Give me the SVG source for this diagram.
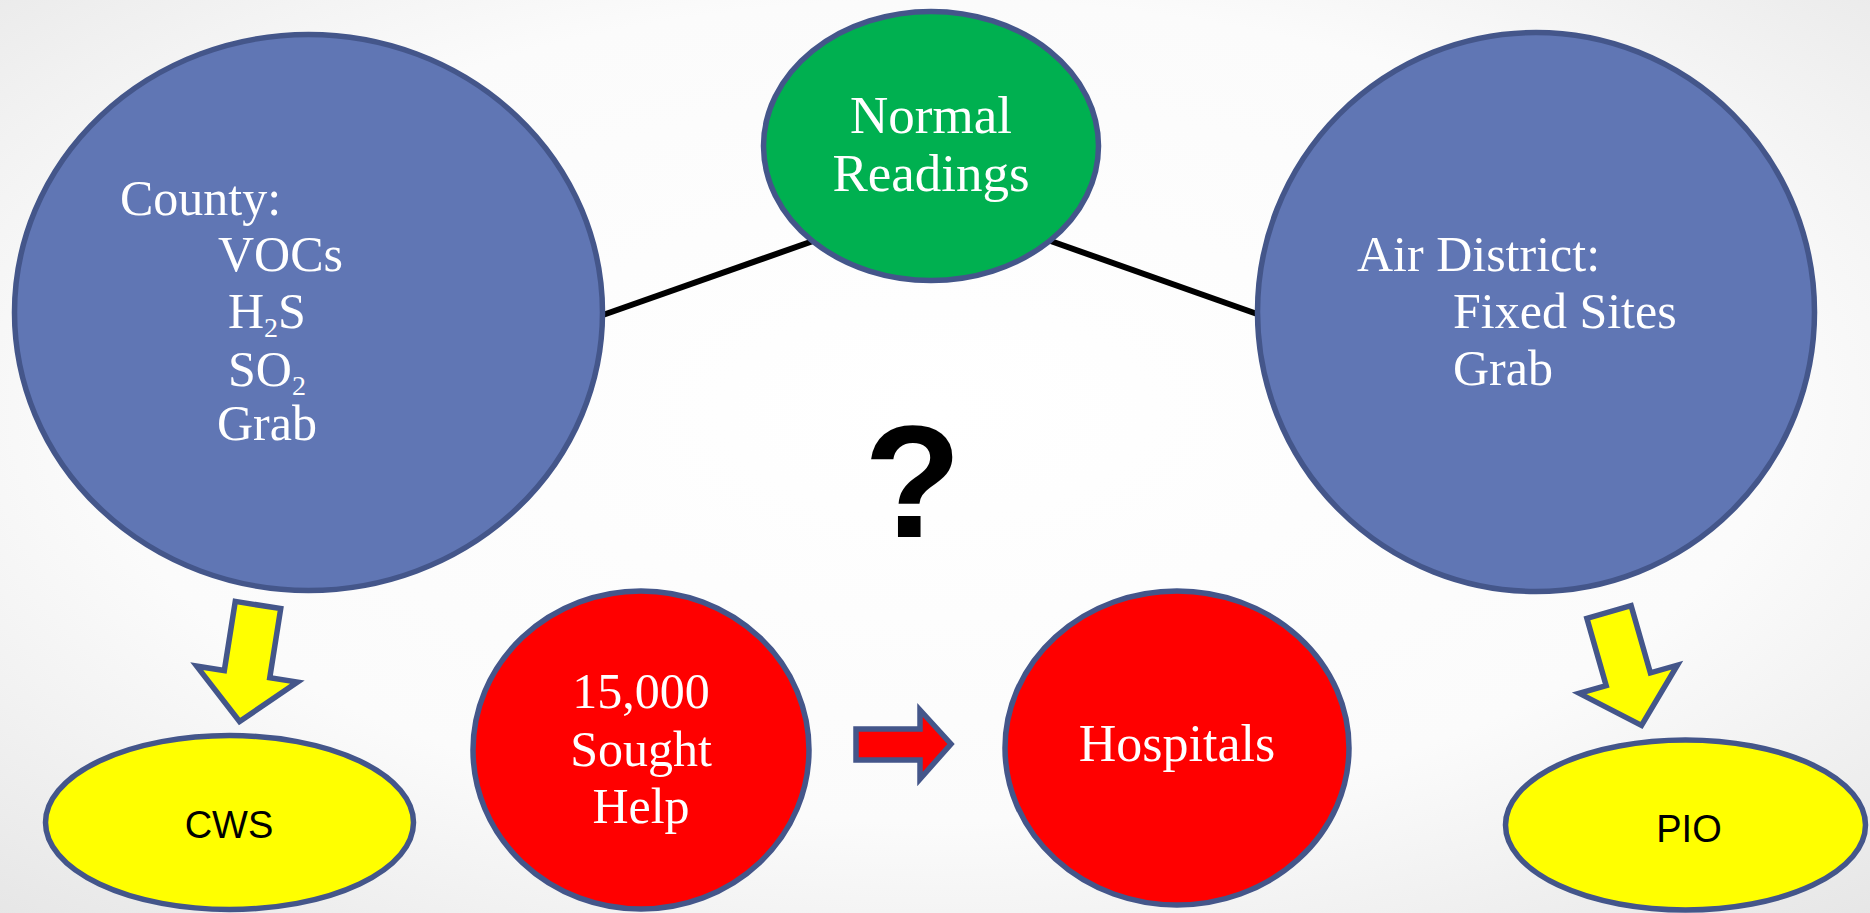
<svg xmlns="http://www.w3.org/2000/svg" width="1870" height="913" viewBox="0 0 1870 913">
<defs>
<radialGradient id="bg" cx="0.5" cy="0.45" r="0.75">
<stop offset="0" stop-color="#ffffff"/>
<stop offset="0.6" stop-color="#fbfbfb"/>
<stop offset="1" stop-color="#e6e6e6"/>
</radialGradient>
</defs>
<style>
.edge{fill:none;stroke:#44568a;stroke-width:5.5}
.blue{fill:#6076b4}
.green{fill:#00b050}
.red{fill:#ff0000}
.yellow{fill:#ffff00}
.serif{font-family:"Liberation Serif","Times New Roman",serif;font-size:50px;fill:#ffffff}
.sans{font-family:"Liberation Sans",Arial,sans-serif;font-size:38px;fill:#000000}
.sub{font-size:28px}
.conn{stroke:#000000;stroke-width:6;fill:none}
</style>
<rect x="0" y="0" width="1870" height="913" fill="url(#bg)"/>
<g id="connectors">
<line class="conn" x1="600" y1="316" x2="816" y2="240"/>
<line class="conn" x1="1045" y1="239" x2="1260" y2="315"/>
<polygon class="red edge" points="856,729 920,729 920,710 951,744 920,779 920,760 856,760"/>
<polygon class="yellow edge" transform="translate(258,605) rotate(9)" points="-23,0 23,0 23,70 51,70 0,118 -51,70 -23,70"/>
<polygon class="yellow edge" transform="translate(1609,612) rotate(-16)" points="-23,0 23,0 23,70 51,70 0,118 -51,70 -23,70"/>
</g>
<g id="county">
<ellipse class="blue edge" cx="308.5" cy="312.5" rx="294" ry="278"/>
<text class="serif" x="120" y="215">County:</text>
<text class="serif" x="218" y="271">VOCs</text>
<text class="serif" x="228" y="328">H<tspan class="sub" dy="9">2</tspan><tspan dy="-9">S</tspan></text>
<text class="serif" x="228" y="386">SO<tspan class="sub" dy="9">2</tspan></text>
<text class="serif" x="217" y="440">Grab</text>
</g>
<g id="normal-readings">
<ellipse class="green edge" cx="931" cy="146" rx="167.5" ry="134.5"/>
<text class="serif" x="931" y="133" text-anchor="middle" style="font-size:53px">Normal</text>
<text class="serif" x="931" y="191" text-anchor="middle" style="font-size:53px">Readings</text>
</g>
<g id="air-district">
<ellipse class="blue edge" cx="1536" cy="312" rx="278.5" ry="279.5"/>
<text class="serif" x="1357" y="271">Air District:</text>
<text class="serif" x="1453" y="328">Fixed Sites</text>
<text class="serif" x="1453" y="385">Grab</text>
</g>
<g id="question">
<text x="912.5" y="537" text-anchor="middle" style="font-family:'Liberation Sans',Arial,sans-serif;font-size:160px;font-weight:bold;fill:#000000">?</text>
</g>
<g id="sought-help">
<ellipse class="red edge" cx="641" cy="750" rx="168" ry="159"/>
<text class="serif" x="641" y="708" text-anchor="middle">15,000</text>
<text class="serif" x="641" y="766" text-anchor="middle">Sought</text>
<text class="serif" x="641" y="823" text-anchor="middle">Help</text>
</g>
<g id="hospitals">
<ellipse class="red edge" cx="1177" cy="748" rx="172" ry="157"/>
<text class="serif" x="1177" y="761" text-anchor="middle" style="font-size:52px">Hospitals</text>
</g>
<g id="cws">
<ellipse class="yellow edge" cx="229.5" cy="822.5" rx="184" ry="87"/>
<text class="sans" x="229" y="838" text-anchor="middle">CWS</text>
</g>
<g id="pio">
<ellipse class="yellow edge" cx="1685.5" cy="825" rx="180" ry="85"/>
<text class="sans" x="1689" y="842" text-anchor="middle">PIO</text>
</g>
</svg>
